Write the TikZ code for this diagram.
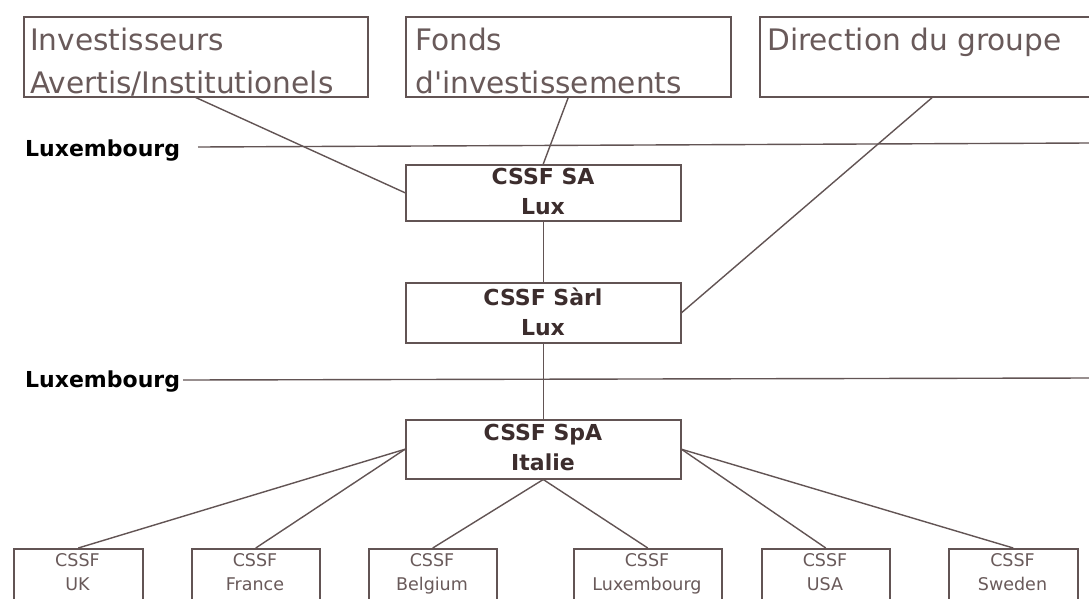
\documentclass[tikz,border=0pt]{standalone}
\usepackage{fontspec}
\setmainfont{DejaVu Sans}[Ligatures=TeXOff]
\definecolor{linec}{RGB}{98,84,84}
\definecolor{thintext}{RGB}{105,90,90}
\definecolor{boldtext}{RGB}{60,45,45}
\begin{document}
\begin{tikzpicture}[x=1pt,y=-1pt,
  frame/.style={draw=linec, line width=1.5pt, inner sep=0pt, anchor=north west},
  toptext/.style={text=thintext, inner sep=0pt, anchor=base west, font=\fontsize{29.6}{35}\selectfont},
  midtext/.style={text=boldtext, inner sep=0pt, align=center, anchor=north, font=\bfseries\fontsize{22}{30}\selectfont},
  luxlabel/.style={text=black, inner sep=0pt, anchor=base west, font=\bfseries\fontsize{22}{26}\selectfont},
  smalltext/.style={text=thintext, inner sep=0pt, align=center, anchor=north, font=\fontsize{17.5}{24}\selectfont},
  conn/.style={draw=linec, line width=1.4pt}]
\useasboundingbox (0,0) rectangle (1089,598);
\clip (0,0) rectangle (1089,598);
\fill[white] (0,0) rectangle (1089,598);
% top boxes
\node[frame, minimum width=344, minimum height=80] (inv) at (23,16) {};
\node[toptext] (invt1) at (30,50) {Investisseurs};
\node[toptext] (invt2) at (30,93) {Avertis/Institutionels};
\node[frame, minimum width=325, minimum height=80] (fonds) at (405,16) {};
\node[toptext] (fondst1) at (415,50) {Fonds};
\node[toptext] (fondst2) at (415,93) {d'investissements};
\node[frame, minimum width=345, minimum height=80] (dir) at (759,16) {};
\node[toptext] (dirt) at (767,50) {Direction du groupe};
% Luxembourg lines
\node[luxlabel] (lux1) at (25,156) {Luxembourg};
\coordinate (l1s) at (198,147);
\coordinate (l1e) at (1089,143);
\draw[conn] (l1s) -- (l1e);
\node[luxlabel] (lux2) at (25,387) {Luxembourg};
\coordinate (l2s) at (183,380);
\coordinate (l2e) at (1089,378);
\draw[conn] (l2s) -- (l2e);
% middle boxes
\node[frame, minimum width=275, minimum height=56] (sa) at (405,164) {};
\node[midtext] (sat) at (543,168) {CSSF SA\\Lux};
\node[frame, minimum width=275, minimum height=60] (sarl) at (405,282) {};
\node[midtext] (sarlt) at (543,288) {CSSF Sàrl\\Lux};
\node[frame, minimum width=275, minimum height=59] (spa) at (405,419) {};
\node[midtext] (spat) at (543,424) {CSSF SpA\\Italie};
% bottom boxes
\node[frame, minimum width=129, minimum height=70] (uk) at (13,548) {};
\node[smalltext] (ukt) at (77.5,553) {CSSF\\UK};
\node[frame, minimum width=128, minimum height=70] (fr) at (191,548) {};
\node[smalltext] (frt) at (255,553) {CSSF\\France};
\node[frame, minimum width=128, minimum height=70] (be) at (368,548) {};
\node[smalltext] (bet) at (432,553) {CSSF\\Belgium};
\node[frame, minimum width=148, minimum height=70] (lu) at (573,548) {};
\node[smalltext] (lut) at (647,553) {CSSF\\Luxembourg};
\node[frame, minimum width=128, minimum height=70] (us) at (761,548) {};
\node[smalltext] (ust) at (825,553) {CSSF\\USA};
\node[frame, minimum width=129, minimum height=70] (se) at (948,548) {};
\node[smalltext] (set) at (1012.5,553) {CSSF\\Sweden};
% connectors
\draw[conn] (inv.south) -- (sa.west);
\draw[conn] (fonds.south) -- (sa.north);
\draw[conn] (dir.south) -- (sarl.east);
\draw[conn] (sa.south) -- (sarl.north);
\draw[conn] (sarl.south) -- (spa.north);
\draw[conn] (spa.west) -- (uk.north);
\draw[conn] (spa.west) -- (fr.north);
\draw[conn] (spa.south) -- (be.north);
\draw[conn] (spa.south) -- (lu.north);
\draw[conn] (spa.east) -- (us.north);
\draw[conn] (spa.east) -- (se.north);
\end{tikzpicture}
\end{document}
